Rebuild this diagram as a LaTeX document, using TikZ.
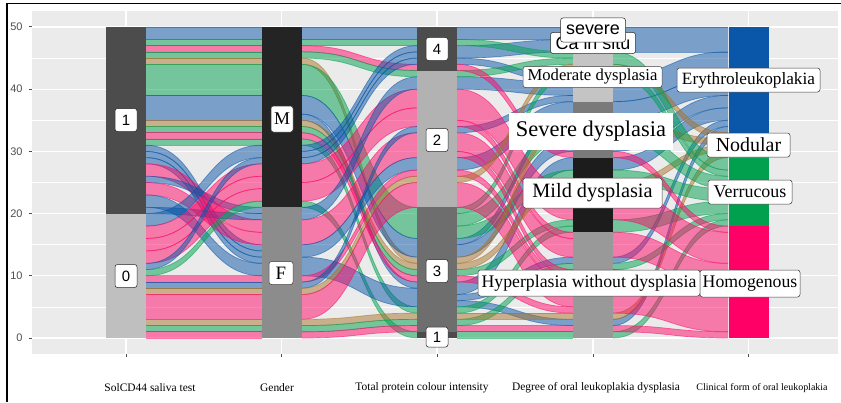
\documentclass[tikz,border=0pt]{standalone}
\usepackage{fontspec}
\setmainfont{Liberation Serif}
\setsansfont{Liberation Sans}
\usepackage{tikz}
\usepackage{xcolor}
\usetikzlibrary{positioning}

\definecolor{panelbg}{HTML}{EBEBEB}
\definecolor{tickgrey}{HTML}{4D4D4D}
\definecolor{ery}{HTML}{0A56A8}
\definecolor{nod}{HTML}{A8742C}
\definecolor{ver}{HTML}{00A04F}
\definecolor{hom}{HTML}{FF0A68}
\definecolor{nodbar}{HTML}{B8874C}
\definecolor{homobar}{HTML}{FF0066}

\newcommand{\fsz}[1]{\fontsize{#1}{#1}\selectfont}

% one alluvial band: xl, xr, left top, left bottom, right top, right bottom, colour
\newcommand{\flowband}[7]{%
  \pgfmathsetmacro{\flowmid}{(#1+#2)/2}
  \fill[#7, opacity=0.5] (#1,#3) .. controls (\flowmid,#3) and (\flowmid,#5) .. (#2,#5)
    -- (#2,#6) .. controls (\flowmid,#6) and (\flowmid,#4) .. (#1,#4) -- cycle;
  \draw[#7, opacity=0.55, line width=0.7bp] (#1,#3) .. controls (\flowmid,#3) and (\flowmid,#5) .. (#2,#5);
  \draw[#7, opacity=0.55, line width=0.7bp] (#1,#4) .. controls (\flowmid,#4) and (\flowmid,#6) .. (#2,#6);
}

\begin{document}
\begin{tikzpicture}[x=1bp, y=1bp,
  numlbl/.style={fill=white, draw=black!85, line width=0.5bp, rounded corners=2.5bp, inner sep=0pt,
    font=\sffamily\fsz{15}, minimum width=22bp, minimum height=23bp},
  serlbl/.style={fill=white, draw=black!75, line width=0.5bp, rounded corners=2.5bp, inner sep=0pt},
  axtitle/.style={font=\fsz{11.5}, anchor=center},
  ylab/.style={font=\sffamily\fsz{11}, text=tickgrey, anchor=east}]

\useasboundingbox (0,0) rectangle (841,402);
\draw[line width=1.2bp] (7,0) -- (7,398.5) -- (841,398.5);
\fill[panelbg] (32,48) rectangle (838,391);

% x ticks
\foreach \x in {126,281.5,437,593,748.5}
  \draw[tickgrey, line width=1bp] (\x,48) -- (\x,45);

\begin{scope}[x=1bp, y=6.22bp, shift={(0bp,64bp)}]
  % grid
  \foreach \v in {5,15,...,45}
    \draw[white, line width=0.6bp] (32,\v) -- (838,\v);
  \foreach \v in {0,10,...,50}
    \draw[white, line width=1.2bp] (32,\v) -- (838,\v);
  \foreach \x in {126,281.5,437,593,748.5}
    \draw[white, line width=1.2bp] (\x,-2.57) -- (\x,52.6);
  \foreach \v in {0,10,...,50} {
    \draw[tickgrey, line width=1bp] (28.5,\v) -- (32,\v);
    \node[ylab] at (26,\v) {\v};
  }

  % SolCD44 -> Gender
  \foreach \lt/\lb/\rt/\rb/\c in {50/48/50/48/ery, 48/47/48/47/ver, 47/46/47/46/hom, 46/45/46/45/ver,
      45/44/45/44/nod, 44/39/44/39/ver, 39/35/39/35/ery, 35/34/35/34/nod, 34/33/34/33/ver,
      33/32/33/32/hom, 32/31/32/31/ver, 10/9/10/9/hom, 9/8/9/8/ery, 8/7/8/7/nod, 7/3/7/3/hom,
      3/2/3/2/nod, 2/1/2/1/ver, 1/0/1/0/hom,
      31/30/15/14/ery, 30/29/14/13/ery, 29/28/13/12/ery, 28/26/19/17/hom, 26/25/21/20/ery,
      25/23/17/15/hom, 23/21/12/10/ery, 21/20/20/19/ery,
      20/18/31/29/ery, 18/16/28/26/hom, 16/14/26/24/hom, 14/12/24/22/hom, 12/11/29/28/ery,
      11/10/22/21/ver}
    {\flowband{146}{262}{\lt}{\lb}{\rt}{\rb}{\c}}

  % Gender -> Total protein colour intensity
  \foreach \lt/\lb/\rt/\rb/\c in {50/48/50/48/ery, 48/47/48/47/ver, 47/46/44/43/hom, 46/45/43/42/ver,
      45/44/13/12/nod, 44/39/21/16/ver, 39/36/16/13/ery, 36/35/9/8/ery, 35/34/12/11/nod,
      34/33/11/10/ver, 33/32/10/9/hom, 32/31/5/4/ver, 31/30/47/46/ery, 30/29/46/45/ery,
      29/28/45/44/ery, 28/25/40/37/hom, 25/22/37/34/hom, 22/21/1/0/ver,
      21/19/42/40/ery, 19/15/33/29/hom, 15/13/29/27/ery, 13/10/8/5/ery, 10/9/27/26/hom,
      9/8/34/33/ery, 8/7/26/25/nod, 7/3/25/21/hom, 3/2/4/3/nod, 2/1/3/2/ver, 1/0/2/1/hom}
    {\flowband{302}{417}{\lt}{\lb}{\rt}{\rb}{\c}}

  % Total protein colour intensity -> Degree of dysplasia
  \foreach \lt/\lb/\rt/\rb/\c in {50/48/50/48/ery, 47/45/48/46/ery, 45/44/42/41/ery, 42/40/41/39/ery,
      34/33/39/38/ery, 29/27/38/36/ery, 16/15/36/35/ery, 15/13/32/30/ery, 9/7/29/27/ery,
      7/6/13/12/ery, 6/5/3/2/ery,
      48/47/46/45/ver, 43/42/45/44/ver, 21/20/43/42/ver, 20/18/34/32/ver, 18/16/27/25/ver,
      11/10/19/18/ver, 5/4/18/17/ver, 3/2/12/11/ver, 1/0/1/0/ver,
      44/43/30/29/hom, 40/35/24/19/hom, 35/34/17/16/hom, 33/30/16/13/hom, 30/29/11/10/hom,
      27/26/10/9/hom, 25/21/9/5/hom, 10/9/5/4/hom, 2/1/2/1/hom,
      26/25/44/43/nod, 13/12/35/34/nod, 12/11/25/24/nod, 4/3/4/3/nod}
    {\flowband{457}{573}{\lt}{\lb}{\rt}{\rb}{\c}}

  % Degree of dysplasia -> Clinical form
  \foreach \lt/\lb/\rt/\rb/\c in {50/46/50/46/ery, 42/38/46/42/ery, 38/35/42/39/ery, 32/30/39/37/ery,
      29/27/37/35/ery, 13/12/35/34/ery, 3/2/34/33/ery,
      44/43/33/32/nod, 35/34/32/31/nod, 25/24/31/30/nod, 4/3/30/29/nod,
      46/44/29/27/ver, 43/42/27/26/ver, 34/32/26/24/ver, 27/25/24/22/ver, 19/17/22/20/ver,
      12/11/20/19/ver, 1/0/19/18/ver,
      30/29/18/17/hom, 24/19/17/12/hom, 17/13/12/8/hom, 11/4/8/1/hom, 2/1/1/0/hom}
    {\flowband{613}{728}{\lt}{\lb}{\rt}{\rb}{\c}}

  % strata
  \foreach \xa/\lo/\hi/\col in {106/20/50/black!70, 106/0/20/black!25,
      262/21/50/black!86, 262/0/21/black!45,
      417/43/50/black!70, 417/21/43/black!30, 417/1/21/black!57, 417/0/1/black!70,
      573/49/50/black!80, 573/46/49/black!64, 573/38/46/black!23, 573/29/38/black!52,
      573/17/29/black!89, 573/0/17/black!40,
      728.5/33/50/ery, 728.5/29/33/nodbar, 728.5/18/29/ver, 728.5/0/18/homobar}
    \fill[\col] (\xa,\lo) rectangle ({\xa+40},\hi);
\end{scope}

% stratum labels
\node[numlbl] (solone) at (126,282) {1};
\node[numlbl] (solzero) at (126,126) {0};
\node[serlbl, font=\fsz{18}, minimum width=22bp, minimum height=26bp] (gmale) at (282,283) {M};
\node[serlbl, font=\fsz{19}, minimum width=24bp, minimum height=23bp] (gfemale) at (281,129) {F};
\node[numlbl] (pfour) at (437,353) {4};
\node[numlbl] (ptwo) at (437,262) {2};
\node[numlbl] (pthree) at (437,131) {3};
\node[numlbl, minimum height=20bp] (pone) at (437,65) {1};
\node[numlbl, font=\sffamily\fsz{18}, minimum width=85bp, minimum height=21bp] (dcis) at (593,359) {Ca in situ};
\node[numlbl, font=\sffamily\fsz{18}, minimum width=65bp, minimum height=24bp] (dsev) at (593,372) {severe};
\node[serlbl, font=\fsz{16.7}, minimum width=139bp, minimum height=21bp] (dmod) at (592.5,325) {Moderate dysplasia};
\node[serlbl, draw=none, rounded corners=0pt, font=\fsz{22.5}, minimum width=164bp, minimum height=37bp] (dsevd) at (591,270.5) {Severe dysplasia};
\node[serlbl, font=\fsz{20.4}, minimum width=139bp, minimum height=30bp] (dmild) at (592.5,209) {Mild dysplasia};
\node[serlbl, font=\fsz{17.8}, minimum width=222bp, minimum height=26bp] (dhyp) at (589,119) {Hyperplasia without dysplasia};
\node[serlbl, font=\fsz{17.3}, minimum width=143bp, minimum height=24bp] (cery) at (748.5,322) {Erythroleukoplakia};
\node[serlbl, font=\fsz{20}, minimum width=83bp, minimum height=24bp] (cnod) at (748.5,257) {Nodular};
\node[serlbl, font=\fsz{18}, minimum width=84bp, minimum height=24bp] (cver) at (750,210) {Verrucous};
\node[serlbl, font=\fsz{17.8}, minimum width=100bp, minimum height=27bp] (chom) at (750,118.5) {Homogenous};

% axis titles
\node[axtitle] (tsol) at (150,14) {SolCD44 saliva test};
\node[axtitle] (tgen) at (277,14) {Gender};
\node[axtitle] (tprot) at (422,14) {Total protein colour intensity};
\node[axtitle] (tdeg) at (596,14) {Degree of oral leukoplakia dysplasia};
\node[axtitle, font=\fsz{10}] (tcli) at (762,14) {Clinical form of oral leukoplakia};
\end{tikzpicture}
\end{document}
